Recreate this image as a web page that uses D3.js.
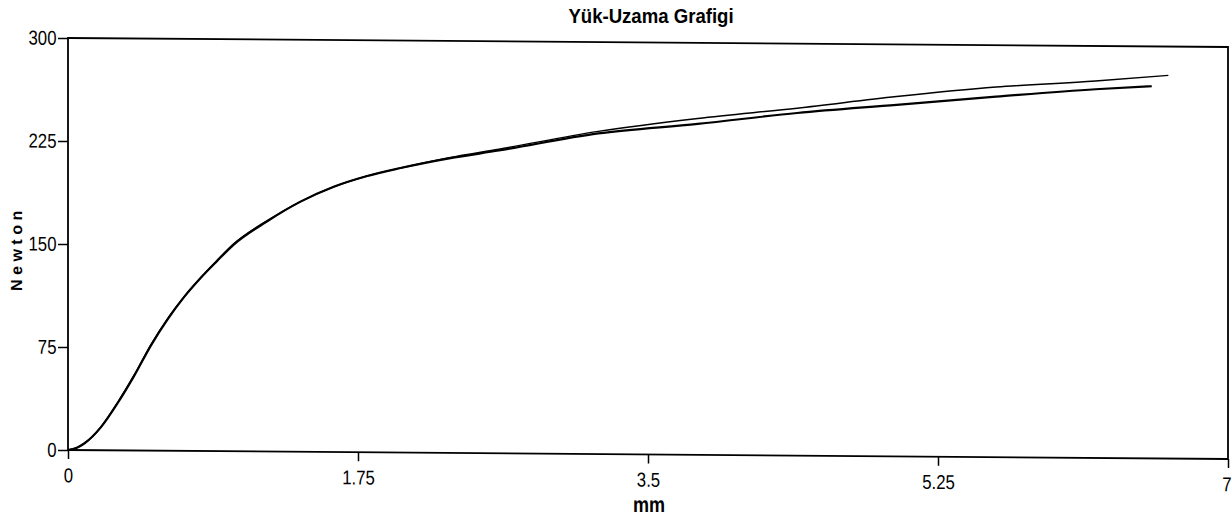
<!DOCTYPE html>
<html>
<head>
<meta charset="utf-8">
<script src="https://cdn.jsdelivr.net/npm/d3@7"></script>
<style>
  body { margin: 0; background: #fff; }
  svg { display: block; }
  .tick text { font-family: "Liberation Sans", Arial, sans-serif; font-size: 20px; fill: #000; }
</style>
</head>
<body>
<div id="chart"></div>
<script>
// elongation (mm) and load (N) for the two test samples
const extA = [0, 0.05, 0.1, 0.2, 0.3, 0.4, 0.5, 0.6, 0.7, 0.8, 0.9, 1.0, 1.2, 1.4, 1.6, 1.8, 2.0, 2.3, 2.6, 3.2, 3.8, 4.4, 5.0, 5.6, 6.2, 6.64];
const loadA = [0, 1.5, 5, 17, 35, 55, 77, 96, 112, 126, 139, 151, 168, 182, 193, 201, 207, 215, 221.5, 235, 245, 253, 262, 269.5, 274.5, 279];

const extB = [0, 0.05, 0.1, 0.2, 0.3, 0.4, 0.5, 0.6, 0.7, 0.8, 0.9, 1.0, 1.2, 1.4, 1.6, 1.8, 2.0, 2.3, 2.6, 3.2, 3.8, 4.4, 5.0, 5.6, 6.2, 6.54];
const loadB = [0, 1.5, 5, 17, 34.5, 54.5, 76.5, 95.5, 112, 126, 138.5, 150.5, 167.5, 182, 193, 201, 207, 214.5, 220.5, 233.5, 241, 249.5, 256, 262.5, 268.5, 271];

const xTicks = [0, 1.75, 3.5, 5.25, 7];
const xTickLabels = ["0", "1.75", "3.5", "5.25", "7"];
const yTicks = [0, 75, 150, 225, 300];

const title = "Yük-Uzama Grafigi";
const xLabel = "mm";
const yLabel = "Newton";

const W = 1232, H = 518;
const margin = {left: 68, right: 1228, top: 38, bottom: 450};
const squeeze = 0.84; // the printed fonts are condensed

const svg = d3.select("#chart").append("svg")
  .attr("width", W)
  .attr("height", H);

svg.append("text")
  .attr("transform", "translate(651,23) scale(0.93,1)")
  .attr("text-anchor", "middle")
  .style("font-family", '"Liberation Sans", Arial, sans-serif')
  .style("font-weight", "bold")
  .style("font-size", "20px")
  .text(title);

// the scanned chart is slightly skewed, so everything below leans a little
const skew = Math.atan(9 / 1160) * 180 / Math.PI;
const g = svg.append("g")
  .attr("transform", `translate(${margin.left},0) skewY(${skew}) translate(${-margin.left},0)`);

const x = d3.scaleLinear().domain([0, 7]).range([margin.left, margin.right]);
const y = d3.scaleLinear().domain([0, 300]).range([margin.bottom, margin.top]);

const xAxis = g.append("g")
  .attr("transform", `translate(0,${margin.bottom})`)
  .call(d3.axisBottom(x).tickValues(xTicks).tickFormat((d, i) => xTickLabels[i]).tickSize(9).tickSizeOuter(0).tickPadding(9))
  .call(a => a.select(".domain").remove());
xAxis.selectAll("line").attr("stroke", "#000").attr("stroke-width", 1.5);
xAxis.selectAll("text")
  .attr("x", (d, i) => i === xTicks.length - 1 ? -2 : 0)
  .attr("transform", `scale(${squeeze},1)`);

const yAxis = g.append("g")
  .attr("transform", `translate(${margin.left},0)`)
  .call(d3.axisLeft(y).tickValues(yTicks).tickSize(10).tickSizeOuter(0).tickPadding(2))
  .call(a => a.select(".domain").remove());
yAxis.selectAll("line").attr("stroke", "#000").attr("stroke-width", 1.5);
yAxis.selectAll("text")
  .attr("x", -11.5 / squeeze)
  .attr("transform", `scale(${squeeze},1)`);

g.append("rect")
  .attr("x", x(0))
  .attr("y", y(300))
  .attr("width", x(7) - x(0))
  .attr("height", y(0) - y(300))
  .attr("fill", "none")
  .attr("stroke", "#000")
  .attr("stroke-width", 1.8);

const line = d3.line()
  .x(d => x(d[0]))
  .y(d => y(d[1]))
  .curve(d3.curveMonotoneX);

g.append("path")
  .datum(d3.zip(extA, loadA))
  .attr("d", line)
  .attr("fill", "none")
  .attr("stroke", "#000")
  .attr("stroke-width", 1.5);

g.append("path")
  .datum(d3.zip(extB, loadB))
  .attr("d", line)
  .attr("fill", "none")
  .attr("stroke", "#000")
  .attr("stroke-width", 2.2);

g.append("text")
  .attr("transform", "translate(649,507.5) scale(0.82,1)")
  .attr("text-anchor", "middle")
  .style("font-family", '"Liberation Sans", Arial, sans-serif')
  .style("font-weight", "bold")
  .style("font-size", "22px")
  .text(xLabel);

g.append("text")
  .attr("transform", "translate(22,249) rotate(-90)")
  .attr("text-anchor", "middle")
  .style("font-family", '"Liberation Sans", Arial, sans-serif')
  .style("font-weight", "bold")
  .style("font-size", "16px")
  .style("letter-spacing", "4.5px")
  .text(yLabel);
</script>
</body>
</html>
